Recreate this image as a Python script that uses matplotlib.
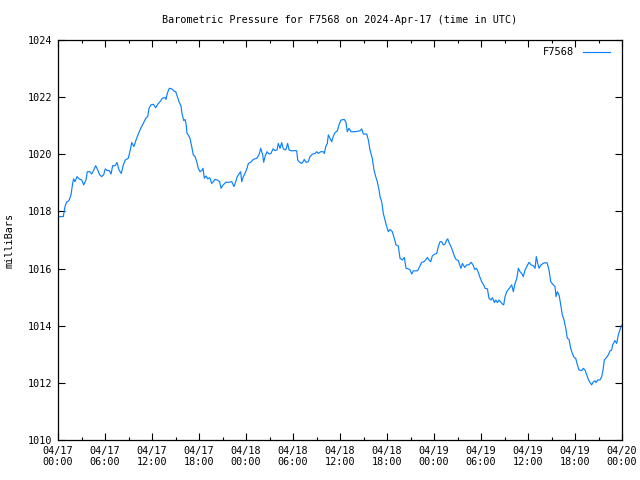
import matplotlib
matplotlib.use("Agg")
import matplotlib.pyplot as plt
from matplotlib.ticker import MultipleLocator

# hours since 2024-04-17 00:00 UTC
hours = [0.00, 0.68, 0.89, 1.11, 1.40, 1.66, 1.88, 2.00, 2.17, 2.43, 2.68, 3.03, 3.28, 3.57, 3.74,
         4.05, 4.30, 4.56, 4.81, 5.07, 5.32, 5.58, 5.83, 6.04, 6.29, 6.55, 6.77, 6.98, 7.28, 7.53,
         7.79, 8.08, 8.34, 8.59, 8.97, 9.23, 9.41, 9.70, 9.96, 10.25, 10.56, 10.89, 11.20, 11.45,
         11.62, 11.87, 12.17, 12.47, 12.73, 13.02, 13.32, 13.66, 13.79, 13.95, 14.21, 14.52, 14.77,
         15.03, 15.23, 15.45, 15.70, 15.83, 16.05, 16.21, 16.34, 16.47, 16.63, 16.85, 17.07, 17.27,
         17.49, 17.71, 17.91, 18.13, 18.35, 18.51, 18.68, 18.89, 19.11, 19.37, 19.62, 19.83, 20.04,
         20.34, 20.64, 20.81, 21.10, 21.41, 21.83, 22.18, 22.47, 22.69, 22.89, 23.15, 23.32, 23.45,
         23.66, 23.87, 24.13, 24.30, 24.60, 24.93, 25.37, 25.66, 25.88, 26.13, 26.26, 26.43, 26.68,
         26.94, 27.19, 27.45, 27.70, 27.96, 28.12, 28.34, 28.56, 28.76, 29.07, 29.32, 29.49, 29.83,
         30.26, 30.47, 30.60, 30.77, 31.11, 31.28, 31.44, 31.66, 31.95, 32.17, 32.46, 32.81, 33.03,
         33.23, 33.54, 33.87, 34.00, 34.18, 34.38, 34.51, 34.73, 34.94, 35.15, 35.36, 35.66, 35.87,
         36.13, 36.55, 36.77, 36.93, 37.15, 37.41, 37.92, 38.56, 38.77, 38.98, 39.41, 39.62, 39.83,
         40.12, 40.34, 40.56, 40.76, 40.98, 41.11, 41.32, 41.53, 41.75, 41.96, 42.17, 42.38, 42.68,
         42.93, 43.15, 43.44, 43.66, 43.96, 44.21, 44.43, 44.72, 44.94, 45.16, 45.36, 45.67, 45.92,
         46.21, 46.43, 46.72, 46.98, 47.15, 47.36, 47.58, 47.78, 48.04, 48.35, 48.55, 48.77, 48.98,
         49.19, 49.41, 49.62, 49.75, 49.92, 50.17, 50.34, 50.59, 50.81, 51.10, 51.28, 51.45, 51.62,
         51.92, 52.17, 52.47, 52.72, 52.98, 53.19, 53.41, 53.62, 53.83, 54.09, 54.34, 54.51, 54.82,
         55.02, 55.28, 55.46, 55.71, 55.88, 56.10, 56.30, 56.56, 56.72, 56.90, 57.07, 57.28, 57.49,
         57.70, 57.92, 58.13, 58.34, 58.56, 58.77, 58.98, 59.20, 59.40, 59.62, 59.84, 60.13, 60.39,
         60.68, 60.90, 61.06, 61.24, 61.41, 61.66, 62.05, 62.43, 62.68, 62.90, 63.23, 63.45, 63.58,
         63.74, 63.96, 64.18, 64.38, 64.60, 64.82, 65.02, 65.24, 65.45, 65.66, 65.88, 66.09, 66.30,
         66.51, 66.86, 67.06, 67.28, 67.50, 67.70, 67.92, 68.13, 68.34, 68.56, 68.68, 68.90, 69.19,
         69.41, 69.58, 69.74, 70.00, 70.25, 70.47, 70.68, 70.81, 71.11, 71.32, 71.53, 71.75, 71.95]

pressure = [1017.82, 1017.82, 1018.17, 1018.33, 1018.38, 1018.58, 1019.00, 1019.14, 1019.04, 1019.22,
            1019.14, 1019.10, 1018.93, 1019.10, 1019.39, 1019.39, 1019.31, 1019.45, 1019.60, 1019.45,
            1019.28, 1019.22, 1019.28, 1019.49, 1019.43, 1019.43, 1019.31, 1019.60, 1019.60, 1019.71,
            1019.45, 1019.33, 1019.63, 1019.80, 1019.86, 1020.15, 1020.41, 1020.27, 1020.50, 1020.71,
            1020.91, 1021.08, 1021.26, 1021.32, 1021.61, 1021.73, 1021.75, 1021.63, 1021.75, 1021.84,
            1021.96, 1021.99, 1021.92, 1022.13, 1022.31, 1022.29, 1022.22, 1022.19, 1022.02, 1021.84,
            1021.69, 1021.43, 1021.18, 1021.22, 1021.08, 1020.73, 1020.68, 1020.56, 1020.27, 1019.98,
            1019.92, 1019.74, 1019.51, 1019.39, 1019.43, 1019.51, 1019.16, 1019.24, 1019.14, 1019.18,
            1018.98, 1019.04, 1019.12, 1019.10, 1019.04, 1018.81, 1018.93, 1019.02, 1019.02, 1019.04,
            1018.87, 1019.04, 1019.22, 1019.33, 1019.39, 1019.04, 1019.22, 1019.33, 1019.51, 1019.68,
            1019.72, 1019.82, 1019.86, 1019.98, 1020.21, 1019.98, 1019.72, 1019.92, 1020.09, 1020.01,
            1020.03, 1020.19, 1020.13, 1020.15, 1020.38, 1020.21, 1020.41, 1020.19, 1020.15, 1020.38,
            1020.15, 1020.12, 1020.13, 1020.12, 1019.80, 1019.74, 1019.68, 1019.74, 1019.82, 1019.72,
            1019.74, 1019.92, 1020.00, 1020.03, 1020.09, 1020.03, 1020.09, 1020.09, 1020.03, 1020.27,
            1020.38, 1020.68, 1020.56, 1020.44, 1020.64, 1020.76, 1020.82, 1021.03, 1021.20, 1021.22,
            1021.11, 1020.79, 1020.91, 1020.79, 1020.79, 1020.82, 1020.89, 1020.71, 1020.71, 1020.50,
            1020.15, 1019.86, 1019.45, 1019.22, 1019.04, 1018.75, 1018.52, 1018.34, 1017.93, 1017.70,
            1017.47, 1017.29, 1017.37, 1017.29, 1017.06, 1016.83, 1016.79, 1016.36, 1016.30, 1016.39,
            1016.01, 1015.99, 1015.95, 1015.81, 1015.92, 1015.92, 1015.93, 1016.09, 1016.22, 1016.24,
            1016.32, 1016.39, 1016.30, 1016.24, 1016.44, 1016.50, 1016.53, 1016.77, 1016.94, 1016.94,
            1016.83, 1016.86, 1017.00, 1017.04, 1016.91, 1016.77, 1016.65, 1016.44, 1016.32, 1016.28,
            1016.13, 1016.01, 1016.18, 1016.04, 1016.13, 1016.13, 1016.22, 1016.13, 1015.97, 1016.01,
            1015.89, 1015.72, 1015.54, 1015.43, 1015.31, 1015.29, 1014.96, 1014.90, 1014.98, 1014.81,
            1014.90, 1014.81, 1014.90, 1014.81, 1014.76, 1014.73, 1015.02, 1015.19, 1015.27, 1015.34,
            1015.43, 1015.19, 1015.48, 1015.64, 1016.01, 1015.89, 1015.83, 1015.72, 1015.95, 1016.07,
            1016.22, 1016.13, 1016.10, 1016.01, 1016.42, 1016.18, 1016.01, 1016.13, 1016.20, 1016.20,
            1015.95, 1015.54, 1015.43, 1015.37, 1015.02, 1015.19, 1015.08, 1014.73, 1014.38, 1014.20,
            1013.91, 1013.56, 1013.52, 1013.21, 1013.03, 1012.89, 1012.86, 1012.63, 1012.45, 1012.43,
            1012.51, 1012.45, 1012.28, 1012.12, 1012.01, 1011.93, 1012.04, 1012.07, 1012.01, 1012.10,
            1012.10, 1012.22, 1012.45, 1012.80, 1012.88, 1012.98, 1013.12, 1013.15, 1013.33, 1013.48,
            1013.38, 1013.68, 1013.87, 1014.02]

tick_hours = [0, 6, 12, 18, 24, 30, 36, 42, 48, 54, 60, 66, 72]
tick_labels = ["04/17\n00:00", "04/17\n06:00", "04/17\n12:00", "04/17\n18:00",
               "04/18\n00:00", "04/18\n06:00", "04/18\n12:00", "04/18\n18:00",
               "04/19\n00:00", "04/19\n06:00", "04/19\n12:00", "04/19\n18:00",
               "04/20\n00:00"]
series_name = "F7568"

plt.rcParams['font.family'] = ['DejaVu Sans Mono']
plt.rcParams['font.size'] = 7.3

fig = plt.figure(figsize=(6.4, 4.8), dpi=100)
ax = fig.add_axes([58/640, 40/480, (622-58)/640, (440-40)/480])

ax.plot(hours, pressure, color='#0a80ff', linewidth=0.85, label=series_name)

ax.set_xlim(0, 72)
ax.set_ylim(1010, 1024)
ax.set_xticks(tick_hours)
ax.set_xticklabels(tick_labels)
ax.xaxis.set_minor_locator(MultipleLocator(3))
ax.set_yticks(range(1010, 1025, 2))

ax.tick_params(which='both', direction='in', top=True, right=True, width=0.8, color='black')
ax.tick_params(which='major', length=5, pad=4)
ax.tick_params(which='minor', length=2.5)
for s in ax.spines.values():
    s.set_linewidth(0.9)

ax.set_title("Barometric Pressure for F7568 on 2024-Apr-17 (time in UTC)", fontsize=7.3, pad=12)
ax.set_ylabel("milliBars", labelpad=10)

leg = ax.legend(loc='upper right', bbox_to_anchor=(0.991, 1.0), frameon=False,
                markerfirst=False, handlelength=2.6, borderaxespad=0.3, fontsize=7.5)

fig.savefig("out.png", dpi=100)
